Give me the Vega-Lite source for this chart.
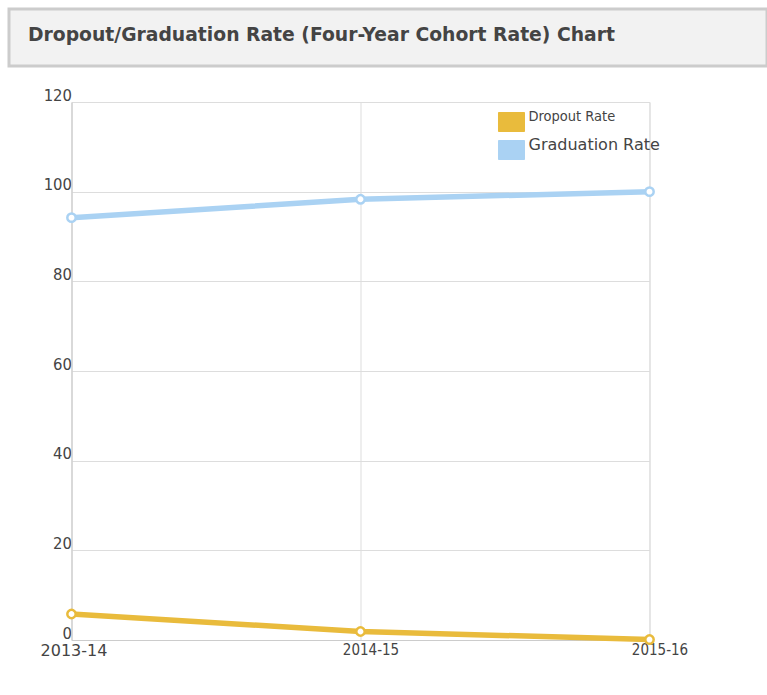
{
  "$schema": "https://vega.github.io/schema/vega-lite/v6.json",
  "padding": {"left": 7, "top": 7, "right": 0, "bottom": 0},
  "background": "white",
  "spacing": 18,
  "resolve": {"legend": {"color": "independent"}},
  "vconcat": [
    {
      "width": 758,
      "height": 57,
      "view": {"fill": "#f2f2f2", "stroke": "#cccccc", "strokeWidth": 3},
      "title": {
        "text": "Dropout/Graduation Rate (Four-Year Cohort Rate) Chart",
        "anchor": "start",
        "frame": "group",
        "orient": "top",
        "offset": -36,
        "dx": 19,
        "font": "DejaVu Sans",
        "fontSize": 18.75,
        "fontWeight": "bold",
        "color": "#444444"
      },
      "data": {"values": [{"t": ""}]},
      "mark": {"type": "text"},
      "encoding": {"text": {"field": "t"}}
    },
    {
      "spacing": 10.5,
      "resolve": {"legend": {"color": "independent"}},
      "hconcat": [
        {
          "width": 20,
          "height": 1,
          "view": {"stroke": null},
          "data": {"values": [{"t": ""}]},
          "mark": {"type": "text"},
          "encoding": {"text": {"field": "t"}}
        },
        {
          "width": 578,
          "height": 538,
          "view": {"stroke": "#dddddd", "strokeWidth": 1},
          "data": {
            "values": [
              {"year": "2013-14", "series": "Dropout Rate", "rate": 5.8},
              {"year": "2014-15", "series": "Dropout Rate", "rate": 1.9},
              {"year": "2015-16", "series": "Dropout Rate", "rate": 0.1},
              {"year": "2013-14", "series": "Graduation Rate", "rate": 94.2},
              {"year": "2014-15", "series": "Graduation Rate", "rate": 98.3},
              {"year": "2015-16", "series": "Graduation Rate", "rate": 100}
            ]
          },
          "encoding": {
            "x": {
              "field": "year",
              "type": "ordinal",
              "scale": {"type": "point", "padding": 0},
              "axis": {
                "title": null,
                "grid": true,
                "gridColor": "#dddddd",
                "domainColor": "#cccccc",
                "ticks": false,
                "labelAngle": 0,
                "labelPadding": 2,
                "labelColor": "#444444",
                "labelFontSize": {"condition": {"test": "datum.value === '2013-14'", "value": 16}, "value": 15},
                "labelFont": {"condition": {"test": "datum.value === '2013-14'", "value": "DejaVu Sans"}, "value": "DejaVu Sans Condensed"},
                "labelOffset": {"condition": {"test": "datum.value === '2013-14'", "value": 2}, "value": 10}
              }
            },
            "y": {
              "field": "rate",
              "type": "quantitative",
              "scale": {"domain": [0, 120]},
              "axis": {
                "title": null,
                "values": [0, 20, 40, 60, 80, 100, 120],
                "grid": true,
                "gridColor": "#dddddd",
                "domainColor": "#cccccc",
                "ticks": false,
                "labelPadding": 0,
                "labelColor": "#444444",
                "labelFont": "DejaVu Sans Condensed",
                "labelFontSize": 16.5,
                "labelBaseline": "alphabetic",
                "labelOffset": -2,
                "minExtent": 30,
                "maxExtent": 30
              }
            },
            "color": {
              "field": "series",
              "type": "nominal",
              "scale": {"domain": ["Dropout Rate", "Graduation Rate"], "range": ["#e9bb3c", "#aad2f3"]},
              "legend": {
                "title": null,
                "orient": "none",
                "legendX": 430,
                "legendY": 10,
                "symbolType": "M-1.37,-1L1.37,-1L1.37,1L-1.37,1Z",
                "symbolSize": 361,
                "symbolStrokeWidth": 1,
                "labelOffset": 7,
                "rowPadding": 3,
                "labelColor": "#444444",
                "labelFont": "DejaVu Sans Condensed",
                "labelFontSize": 15,
                "encode": {
                  "symbols": {"update": {"fill": {"scale": "color", "field": "value"}, "stroke": {"value": "#cccccc"}, "strokeWidth": {"value": 1}, "opacity": {"value": 1}, "fillOpacity": {"value": 1}}},
                  "labels": {"update": {
                    "fontSize": {"signal": "datum.label === 'Dropout Rate' ? 14.5 : 16"},
                    "font": {"signal": "datum.label === 'Dropout Rate' ? 'DejaVu Sans Condensed' : 'DejaVu Sans'"},
                    "dy": {"value": -5}
                  }}
                }
              }
            }
          },
          "layer": [
            {"mark": {"type": "line", "strokeWidth": 5.5}},
            {"mark": {"type": "point", "filled": false, "fill": "white", "fillOpacity": 1, "opacity": 1, "strokeWidth": 2.5, "size": 70}}
          ]
        }
      ]
    }
  ]
}
